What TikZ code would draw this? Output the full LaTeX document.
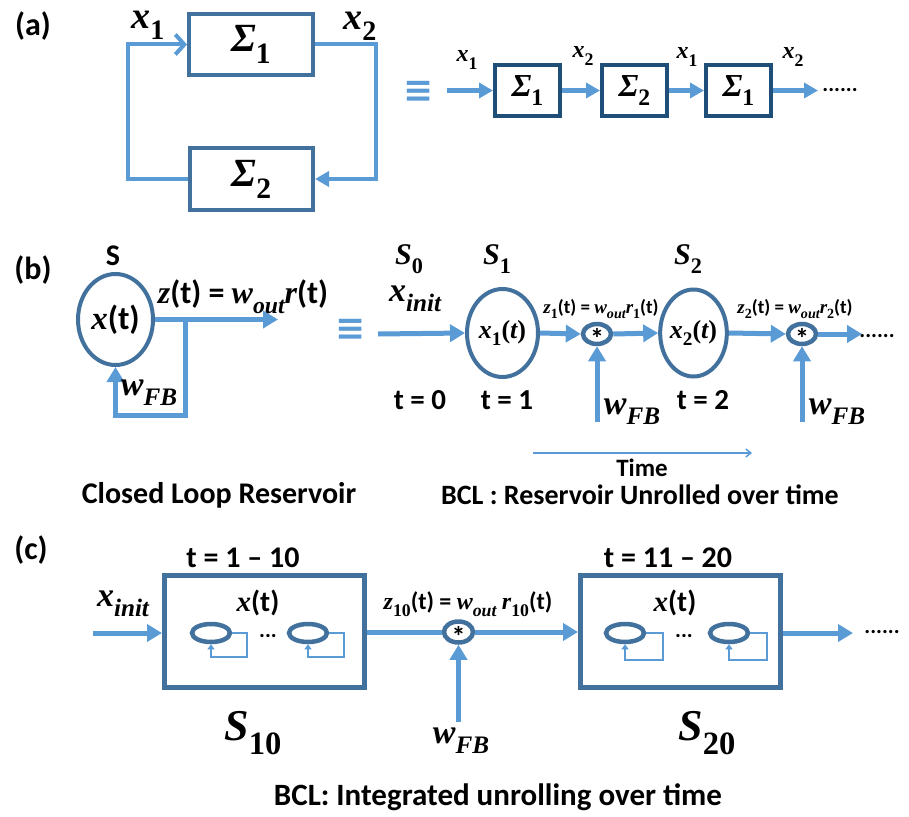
\documentclass[tikz,border=0pt]{standalone}
\usepackage{fontspec}
\usepackage{graphicx}
\setmainfont{Carlito}
\newfontfamily\mfont{Liberation Serif}
\newfontfamily\symfont{DejaVu Sans}
\usetikzlibrary{arrows.meta,shapes.geometric}

\definecolor{flowblue}{HTML}{5B9BD5}
\definecolor{edgeblue}{HTML}{41719C}
\definecolor{navy}{HTML}{1F4E79}

% math-like glyphs: bold italic / bold upright serif, and lowered subscripts
\newcommand\mi[1]{{\mfont\bfseries\itshape #1}}
\newcommand\mn[1]{{\mfont\bfseries #1}}
\newcommand\sbs[1]{\raisebox{-0.3em}{\scalebox{0.74}{#1}}}
\newcommand\fs[1]{\fontsize{#1}{#1}\selectfont}
% asterisk that takes no room, so the ring keeps its own size
\newcommand\multsign{\makebox[0pt]{\raisebox{-0.52em}[0pt][0pt]{*}}}

\tikzset{
  flow/.style={draw=flowblue, line width=5pt},
  tipT/.style={-{Triangle[length=15pt,width=17pt]}},
  barb/.style={-{Straight Barb[length=9pt,width=20pt,line width=4pt]}},
  sysbox/.style={draw=edgeblue, line width=4pt, inner sep=0pt, rectangle},
  chainbox/.style={draw=navy, line width=4pt, inner sep=0pt, rectangle,
                   minimum width=65pt, minimum height=51pt},
  unit/.style={ellipse, draw=edgeblue, line width=4pt, inner sep=0pt},
  mult/.style={ellipse, draw=edgeblue, line width=4.5pt, inner sep=0pt,
               minimum width=28pt, minimum height=20pt, font=\fs{28pt}\bfseries},
  cell/.style={ellipse, draw=edgeblue, line width=4.5pt, inner sep=0pt,
               minimum width=38pt, minimum height=18pt},
  selfloop/.style={draw=flowblue, line width=2pt, -{Triangle[length=5pt,width=7pt]}},
  bigbox/.style={draw=edgeblue, line width=5pt, inner sep=0pt, rectangle,
                 minimum width=200pt, minimum height=112pt},
  lbl/.style={inner sep=0pt, font=\bfseries},
  equiv/.style={inner sep=0pt, text=flowblue, font=\symfont\bfseries\fs{36pt}},
}

\begin{document}
\begin{tikzpicture}[x=1pt,y=-1pt]
\useasboundingbox (0,0) rectangle (909,816);

% ---------------- (a) feedback pair and its unrolled chain ----------------
\node[lbl, font=\fs{32pt}\bfseries] (tagA) at (33,26) {(a)};
\node[sysbox, minimum width=124pt, minimum height=61pt] (sa1) at (251,44.5)
  {\fs{40pt}\mi{Σ}\sbs{\mn{1}}};
\node[sysbox, minimum width=123pt, minimum height=62pt] (sa2) at (251.5,179)
  {\fs{40pt}\mi{Σ}\sbs{\mn{2}}};
\draw[flow, line width=4pt, barb] (sa2.west) -| ([xshift=-59pt]sa1.west) -- (sa1.west);
\draw[flow, line width=4pt, -{Triangle[length=14pt,width=15pt]}]
  (sa1.east) -| ([xshift=61pt]sa2.east) -- (sa2.east);
\node[lbl] (xa1) at (148,25) {\fs{38pt}\mi{x}\sbs{\mn{1}}};
\node[lbl] (xa2) at (360,26) {\fs{38pt}\mi{x}\sbs{\mn{2}}};

\node[equiv] (eqA) at (419,92) {≡};

\node[chainbox] (ca) at (527.5,90.5) {\fs{32pt}\mi{Σ}\sbs{\mn{1}}};
\node[chainbox] (cb) at (634.5,90.5) {\fs{32pt}\mi{Σ}\sbs{\mn{2}}};
\node[chainbox] (cc) at (738.5,90.5) {\fs{32pt}\mi{Σ}\sbs{\mn{1}}};
\coordinate (ca-in) at (447,90.5);
\coordinate (cc-out) at (818,90.5);
\node[lbl, font=\fs{22pt}\bfseries] (dotsA) at (840,90) {......};
\draw[flow, -{Triangle[length=14pt,width=15pt]}] (ca-in) -- (ca.west);
\draw[flow, -{Triangle[length=14pt,width=15pt]}] (ca.east) -- (cb.west);
\draw[flow, -{Triangle[length=14pt,width=15pt]}] (cb.east) -- (cc.west);
\draw[flow, -{Triangle[length=14pt,width=15pt]}] (cc.east) -- (cc-out);
\node[lbl] (xc1) at (467,60) {\fs{24pt}\mi{x}\sbs{\mn{1}}};
\node[lbl] (xc2) at (583,56) {\fs{24pt}\mi{x}\sbs{\mn{2}}};
\node[lbl] (xc3) at (687,57) {\fs{24pt}\mi{x}\sbs{\mn{1}}};
\node[lbl] (xc4) at (793,57) {\fs{24pt}\mi{x}\sbs{\mn{2}}};

% ---------------- (b) closed loop reservoir ----------------
\node[lbl, font=\fs{32pt}\bfseries] (tagB) at (33,270) {(b)};
\node[lbl, font=\fs{30pt}\bfseries] (sLbl) at (113,256) {S};
\node[unit, minimum width=75pt, minimum height=91pt] (res) at (115.5,319.5)
  {\fs{33pt}\mi{x}\bfseries(t)};
\coordinate (res-out) at (278,319.5);
\coordinate (res-tap) at (185,319.5);
\draw[flow, tipT] (res.east) -- (res-out);
\draw[flow, tipT] (res-tap) -- ++(0,95.5) -| (res.south);
\node[lbl] (zb) at (243,297)
  {\fs{32pt}\mi{z}\bfseries(t) = \mi{w}\sbs{\mi{out}}\mi{r}\bfseries(t)};
\node[lbl] (wb) at (149,393) {\fs{34pt}\mi{w}\sbs{\mi{FB}}};
\node[lbl, font=\fs{30pt}\bfseries] (capB1) at (219,495) {Closed Loop Reservoir};
\node[equiv] (eqB) at (351,330) {≡};

% ---------------- (b) unrolled over time ----------------
\node[lbl] (s0) at (409,259) {\fs{30pt}\mi{S}\sbs{\mn{0}}};
\node[lbl] (s1) at (497,259) {\fs{30pt}\mi{S}\sbs{\mn{1}}};
\node[lbl] (s2) at (688,259) {\fs{30pt}\mi{S}\sbs{\mn{2}}};
\node[lbl] (xinitB) at (415,299) {\fs{34pt}\mi{x}\sbs{\mi{init}}};

\node[unit, minimum width=71pt, minimum height=88pt] (u1) at (502.5,333)
  {\fs{26pt}\mi{x}\sbs{\mn{1}}\mn{(}\mi{t}\mn{)}};
\node[mult] (m1) at (597,334) {\multsign};
\node[unit, minimum width=66pt, minimum height=87pt] (u2) at (693.5,333)
  {\fs{26pt}\mi{x}\sbs{\mn{2}}\mn{(}\mi{t}\mn{)}};
\node[mult] (m2) at (802,334) {\multsign};
\coordinate (u-in) at (378,334);
\coordinate (m2-out) at (862,334);
\node[lbl, font=\fs{22pt}\bfseries] (dotsB) at (877,336) {......};
\draw[flow, tipT] (u-in) -- (u1.west);
\draw[flow, tipT] (u1.east) -- (m1.west);
\draw[flow, tipT] (m1.east) -- (u2.west);
\draw[flow, tipT] (u2.east) -- (m2.west);
\draw[flow, tipT] (m2.east) -- (m2-out);
\coordinate (fb1) at (597,422);
\coordinate (fb2) at (802,422);
\draw[flow, tipT] (fb1) -- (m1.south);
\draw[flow, tipT] (fb2) -- (m2.south);

\node[lbl] (z1) at (601,309)
  {\fs{19pt}\mi{z}\sbs{\mn{1}}\bfseries(t) = \mi{w}\sbs{\mi{out}}\mi{r}\sbs{\mn{1}}\bfseries(t)};
\node[lbl] (z2) at (795,309)
  {\fs{19pt}\mi{z}\sbs{\mn{2}}\bfseries(t) = \mi{w}\sbs{\mi{out}}\mi{r}\sbs{\mn{2}}\bfseries(t)};
\node[lbl] (wb1) at (632,412) {\fs{34pt}\mi{w}\sbs{\mi{FB}}};
\node[lbl] (wb2) at (837,412) {\fs{34pt}\mi{w}\sbs{\mi{FB}}};
\node[lbl, font=\fs{29pt}\bfseries] (t0) at (420,400) {t = 0};
\node[lbl, font=\fs{29pt}\bfseries] (t1) at (507,400) {t = 1};
\node[lbl, font=\fs{29pt}\bfseries] (t2) at (703,400) {t = 2};

\coordinate (time-a) at (533,453);
\coordinate (time-b) at (752,453);
\draw[flowblue, line width=1.5pt, -{Straight Barb[length=5pt,width=8pt]}] (time-a) -- (time-b);
\node[lbl, font=\fs{25pt}\bfseries] (timeLbl) at (642,468) {Time};
\node[lbl, font=\fs{28pt}\bfseries] (capB2) at (640,495) {BCL : Reservoir Unrolled over time};

% ---------------- (c) integrated unrolling ----------------
\node[lbl, font=\fs{32pt}\bfseries] (tagC) at (31,550) {(c)};

\node[bigbox] (g1) at (264.5,631.5) {};
\node[bigbox] (g2) at (680.5,631.5) {};
\node[lbl, font=\fs{30pt}\bfseries] (g1t) at (243,558) {t = 1 – 10};
\node[lbl, font=\fs{30pt}\bfseries] (g2t) at (668,558) {t = 11 – 20};
\node[lbl] (g1x) at (258,603) {\fs{29pt}\mi{x}\bfseries(t)};
\node[lbl] (g2x) at (675,603) {\fs{29pt}\mi{x}\bfseries(t)};

% reservoir cells inside each block, each with its own feedback loop
\node[cell] (e11) at (211,633) {};
\node[cell] (e12) at (308,633) {};
\node[cell] (e21) at (625,633) {};
\node[cell] (e22) at (729,633) {};
\draw[selfloop] (e11.east) -- ++(15,0) |- ([yshift=-24pt]e11.center) -- (e11.south);
\draw[selfloop] (e12.east) -- ++(15,0) |- ([yshift=-24pt]e12.center) -- (e12.south);
\draw[selfloop] (e21.east) -- ++(17,0) |- ([yshift=-27pt]e21.center) -- (e21.south);
\draw[selfloop] (e22.east) -- ++(17,0) |- ([yshift=-27pt]e22.center) -- (e22.south);
\node[lbl, font=\fs{22pt}\bfseries, anchor=base] (d1) at (268,637) {...};
\node[lbl, font=\fs{22pt}\bfseries, anchor=base] (d2) at (684,637) {...};

\coordinate (g1-in) at (93,633);
\draw[flow, tipT] (g1-in) -- (g1.west |- g1-in);
\node[lbl] (xinitC) at (123,604) {\fs{34pt}\mi{x}\sbs{\mi{init}}};

\node[mult, minimum width=29pt, minimum height=21pt] (m3) at (458.5,632) {\multsign};
\draw[flow] (g1.east |- m3) -- (m3.west);
\draw[flow, tipT] (m3.east) -- (g2.west |- m3);
\coordinate (fb3) at (458.5,722);
\draw[flow, tipT] (fb3) -- (m3.south);
\node[lbl] (wc) at (461,741) {\fs{34pt}\mi{w}\sbs{\mi{FB}}};
\node[lbl] (z10) at (468,604)
  {\fs{24pt}\mi{z}\sbs{\mn{10}}\bfseries(t) = \mi{w}\sbs{\mi{out}} \mi{r}\sbs{\mn{10}}\bfseries(t)};

\coordinate (g2-out) at (853,633);
\draw[flow, tipT] (g2.east |- g2-out) -- (g2-out);
\node[lbl, font=\fs{22pt}\bfseries] (dotsC) at (882,632) {......};

\node[lbl] (s10) at (253,733) {\fs{44pt}\mi{S}\sbs{\mn{10}}};
\node[lbl] (s20) at (707,733) {\fs{44pt}\mi{S}\sbs{\mn{20}}};
\node[lbl, font=\fs{31pt}\bfseries] (capC) at (498,797) {BCL: Integrated unrolling over time};
\end{tikzpicture}
\end{document}
